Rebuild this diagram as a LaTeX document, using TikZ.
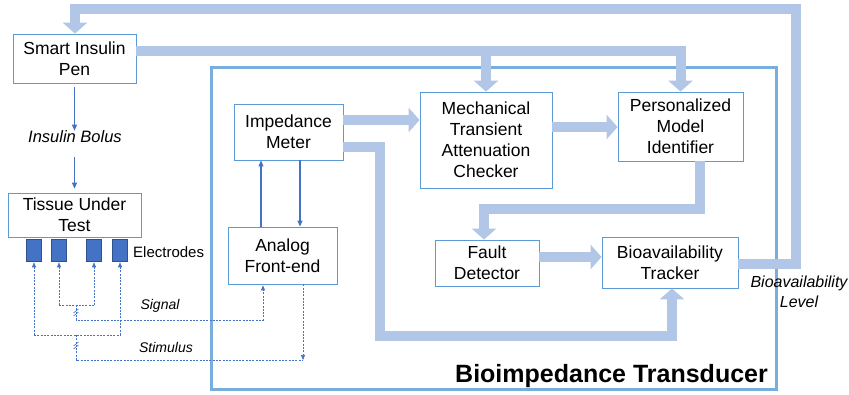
\documentclass[tikz,border=0pt]{standalone}
\usepackage{fontspec}
\setmainfont{Liberation Sans}
\usetikzlibrary{arrows.meta}
\definecolor{fatblue}{RGB}{178,198,231}
\definecolor{boxline}{RGB}{91,155,213}
\definecolor{outerline}{RGB}{120,174,222}
\definecolor{thinblue}{RGB}{68,114,196}
\definecolor{elecline}{RGB}{47,82,143}
\tikzset{
  box/.style={draw=boxline, line width=0.8pt, fill=white, align=center, inner sep=0pt,
    font=\fontsize{17.5}{21}\selectfont},
  fat/.style={draw=fatblue, line width=10pt, line join=miter,
    -{Triangle[width=24pt,length=11pt]}},
  thinarrow/.style={draw=thinblue, line width=1.1pt, -{Triangle[width=5pt,length=6pt]}},
  dsh/.style={draw=thinblue, line width=0.6pt, dash pattern=on 2pt off 1.3pt},
  dshtip/.style={dsh, -{Triangle[width=4pt,length=5pt]}},
  elec/.style={draw=elecline, line width=0.6pt, fill=thinblue, minimum width=15pt, minimum height=22pt, inner sep=0pt},
  lbl/.style={font=\fontsize{14}{17}\selectfont\itshape, align=center, inner sep=0pt},
}
\begin{document}
\begin{tikzpicture}[x=1pt,y=-1pt]
\useasboundingbox (0,0) rectangle (849,395);
% outer transducer box
\node[draw=outerline, line width=3pt, minimum width=565pt, minimum height=321pt, inner sep=0pt] (outer) at (493.5,228.5) {};
\node[font=\fontsize{25}{28}\bfseries, anchor=east, inner sep=0pt] (title) at (768,376) {Bioimpedance Transducer};

% boxes
\node[box, minimum width=123pt, minimum height=49pt] (pen) at (74.5,58.5) {Smart Insulin\\Pen};
\node[box, minimum width=133pt, minimum height=44pt] (tissue) at (74.5,215) {Tissue Under\\Test};
\node[box, minimum width=109pt, minimum height=56pt] (im) at (288.5,132) {Impedance\\Meter};
\node[box, minimum width=109pt, minimum height=57pt] (afe) at (282.5,255.5) {Analog\\Front-end};
\node[box, minimum width=132pt, minimum height=96pt] (mtac) at (486,140) {Mechanical\\Transient\\Attenuation\\Checker};
\node[box, minimum width=125pt, minimum height=69pt] (pmi) at (680.5,126.5) {Personalized\\Model\\Identifier};
\node[box, minimum width=104pt, minimum height=46pt] (fd) at (487,263) {Fault\\Detector};
\node[box, minimum width=136pt, minimum height=51pt] (bt) at (670,262.5) {Bioavailability\\Tracker};

% electrodes
\node[elec] (e1) at (34,250) {};
\node[elec] (e2) at (59,250) {};
\node[elec] (e3) at (94,250) {};
\node[elec] (e4) at (120,250) {};
\node[font=\fontsize{15}{17}\selectfont, anchor=west, inner sep=0pt] (electrodes) at (133,252) {Electrodes};

% labels
\node[lbl, font=\fontsize{16.5}{18}\selectfont\itshape] (bolus) at (75,137) {Insulin Bolus};
\node[lbl] (signal) at (160,306) {Signal};
\node[lbl] (stimulus) at (166,347) {Stimulus};
\node[lbl, font=\fontsize{16}{19.5}\selectfont\itshape] (level) at (799,292) {Bioavailability\\Level};

% thick arrows
\draw[fat] (im.east |- 0,120) -- (mtac.west |- 0,120);
\draw[fat] (im.east |- 0,147) -| (380,336) -| (bt.south -| 672,0);
\draw[fat] (mtac.east |- 0,127) -- (pmi.west |- 0,127);
\draw[fat] (pmi.south -| 700,0) |- (484,209) -- (fd.north -| 484,0);
\draw[fat] (fd.east |- 0,257) -- (bt.west |- 0,257);
\draw[fat] (bt.east |- 0,264) -| (796,9) -| (pen.north -| 75,0);
\draw[fat] (pen.east |- 0,51) -| (pmi.north);
\draw[fat] (486,47) -- (mtac.north);

% thin arrows
\draw[thinarrow, shorten <=4pt] (pen.south) -- (bolus.north -| pen.south);
\draw[thinarrow, shorten <=14pt, shorten >=4pt] (bolus.south -| tissue.north) -- (tissue.north);
\draw[thinarrow] (afe.north -| 261,0) -- (im.south -| 261,0);
\draw[thinarrow] (im.south -| 300,0) -- (afe.north -| 300,0);

% electrode wiring
\draw[dshtip] (e1.south |- 0,335) -- ([yshift=-1pt]e1.south);
\draw[dshtip] (e4.south |- 0,335) -- ([yshift=-1pt]e4.south);
\draw[dsh] (e1.south |- 0,335) -- (e4.south |- 0,335);
\draw[dshtip] (e2.south |- 0,305) -- ([yshift=-1pt]e2.south);
\draw[dshtip] (e3.south |- 0,305) -- ([yshift=-1pt]e3.south);
\draw[dsh] (e2.south |- 0,305) -- (e3.south |- 0,305);
% signal
\draw[dshtip] (76,305) -- (76,320) -| ([yshift=-1pt]afe.south -| 263,0);
% stimulus
\draw[dsh] (76,335) -- (76,360) -- (303,360);
\draw[dshtip] (afe.south -| 303,0) -- (303,360);
% break marks
\draw[thinblue, line width=0.6pt] (73.5,313) -- (78.5,309) (73.5,316) -- (78.5,312);
\draw[thinblue, line width=0.6pt] (73.5,346) -- (78.5,342) (73.5,349) -- (78.5,345);
\end{tikzpicture}
\end{document}
